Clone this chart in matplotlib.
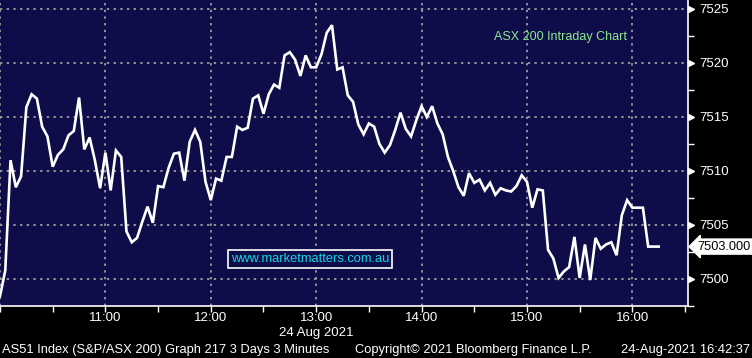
import pandas as pd
import matplotlib
matplotlib.use("Agg")
import matplotlib.pyplot as plt
import matplotlib.dates as mdates
import matplotlib.transforms as mtransforms
from matplotlib.ticker import MultipleLocator, FixedLocator

plt.rcParams["font.family"] = ["Liberation Sans", "DejaVu Sans"]

# ASX 200 3-minute closes, 24 Aug 2021, starting 10:00
start_time = "2021-08-24 10:00"
values = [
    7498.4, 7500.8, 7511.0, 7508.5, 7509.5, 7515.9, 7517.1, 7516.7, 7514.1, 7513.2,
    7510.4, 7511.5, 7512.0, 7513.3, 7513.7, 7516.8, 7512.0, 7513.1, 7511.0, 7508.4,
    7511.7, 7508.2, 7511.9, 7511.3, 7504.4, 7503.4, 7503.8, 7505.3, 7506.7, 7505.2,
    7508.6, 7508.5, 7510.3, 7511.6, 7511.7, 7509.1, 7512.7, 7513.8, 7512.7, 7509.0,
    7507.3, 7509.3, 7509.1, 7511.3, 7511.3, 7514.1, 7513.8, 7514.0, 7516.7, 7517.0,
    7515.3, 7517.1, 7518.0, 7517.7, 7520.7, 7521.0, 7520.3, 7518.8, 7520.7, 7519.6,
    7519.6, 7520.8, 7522.8, 7523.5, 7519.4, 7519.6, 7517.0, 7516.4, 7514.3, 7513.4,
    7514.4, 7514.1, 7512.5, 7511.7, 7512.4, 7513.8, 7515.4, 7513.9, 7513.2, 7514.7,
    7516.0, 7515.0, 7516.0, 7514.4, 7513.4, 7511.3, 7510.0, 7508.5, 7507.7, 7509.8,
    7508.9, 7509.2, 7508.2, 7508.9, 7507.8, 7508.4, 7508.2, 7508.1, 7508.6, 7509.6,
    7509.0, 7506.6, 7508.3, 7508.2, 7502.7, 7501.9, 7500.1, 7500.7, 7501.1, 7503.9,
    7500.1, 7503.2, 7499.9, 7503.8, 7502.8, 7503.2, 7503.4, 7502.2, 7505.9, 7507.3,
    7506.6, 7506.6, 7506.6, 7503.0, 7503.0, 7503.0,
]
last_price = 7503.000
y_ticks = [7500, 7505, 7510, 7515, 7520, 7525]
hour_ticks = ["10:00", "11:00", "12:00", "13:00", "14:00", "15:00", "16:00"]

chart_title = "ASX 200 Intraday Chart"
watermark = "www.marketmatters.com.au"
date_label = "24 Aug 2021"
footer_left = "AS51 Index (S&P/ASX 200) Graph 217 3 Days 3 Minutes"
footer_mid = "Copyright\u00a9 2021 Bloomberg Finance L.P."
footer_right = "24-Aug-2021 16:42:37"

navy = "#0e0d4a"
grid_col = "#9c9c9c"
W, H = 752, 358

times = pd.date_range(start_time, periods=len(values), freq="3min")
day = "2021-08-24 "

fig = plt.figure(figsize=(W / 100, H / 100), dpi=100, facecolor="black")
ax = fig.add_axes([0, 1 - 306 / H, 688 / W, 306 / H])
ax.set_facecolor(navy)

ax.plot(times, values, color="white", lw=1.9, solid_joinstyle="miter", zorder=3)

ax.set_xlim(pd.Timestamp(day + "10:00"), pd.Timestamp(day + "16:31:40"))
ax.set_ylim(7497.5, 7525.83)

# axes styling
for s in ["top", "left"]:
    ax.spines[s].set_visible(False)
for s in ["bottom", "right"]:
    ax.spines[s].set_color("white")
    ax.spines[s].set_linewidth(1.2)

ax.yaxis.tick_right()
ax.yaxis.set_major_locator(FixedLocator(y_ticks))
ax.yaxis.set_minor_locator(MultipleLocator(2.5))
ax.tick_params(axis="y", which="major", length=0, pad=8, labelcolor="white",
               labelsize=9.5)
ax.tick_params(axis="y", which="minor", length=4, width=1, color="white",
               direction="out")

hour_pos = [mdates.date2num(pd.Timestamp(day + h)) for h in hour_ticks]
ax.xaxis.set_major_locator(FixedLocator(hour_pos))
ax.xaxis.set_major_formatter(mdates.DateFormatter("%H:%M"))
ax.xaxis.set_minor_locator(mdates.MinuteLocator(byminute=[30]))
ax.tick_params(axis="x", which="both", length=4, width=1, color="white",
               direction="out", labelcolor="white", labelsize=9.5, pad=0.5)
ax.get_xticklabels()[0].set_visible(False)

ax.grid(True, which="major", color=grid_col, lw=1.3, linestyle=(0, (1.3, 2.4)))

# triangle markers on the price axis
trans = mtransforms.blended_transform_factory(ax.transAxes, ax.transData)
trans = mtransforms.offset_copy(trans, fig=fig, x=3, y=0, units="dots")
ax.plot([1] * len(y_ticks), y_ticks, linestyle="none", marker=">", ms=5,
        color="white", transform=trans, clip_on=False)

# last price tag
ax.annotate(f"{last_price:.3f}", xy=(1, last_price), xycoords=trans,
            xytext=(6, 0), textcoords="offset pixels", ha="left", va="center",
            fontsize=9.2, color="black", annotation_clip=False,
            bbox=dict(boxstyle="larrow,pad=0.12", fc="white", ec="white"))

ax.text(561 / 688, 1 - 37 / 306, chart_title, transform=ax.transAxes,
        ha="center", va="center", color="#8ee88e", fontsize=9)
ax.text(310 / 688, 1 - 259 / 306, watermark, transform=ax.transAxes,
        ha="center", va="center", color="#12d6e6", fontsize=9.3,
        bbox=dict(boxstyle="square,pad=0.2", fc=navy, ec="white", lw=1.2))

fig.text(316 / W, 1 - 333 / H, date_label, ha="center", va="center",
         color="white", fontsize=9.5)
fig.text(2 / W, 1 - 350 / H, footer_left, ha="left", va="center",
         color="white", fontsize=9.3)
fig.text(355 / W, 1 - 350 / H, footer_mid, ha="left", va="center",
         color="white", fontsize=9.3)
fig.text(750 / W, 1 - 350 / H, footer_right, ha="right", va="center",
         color="white", fontsize=9.3)

fig.savefig("out.png", dpi=100, facecolor="black")
